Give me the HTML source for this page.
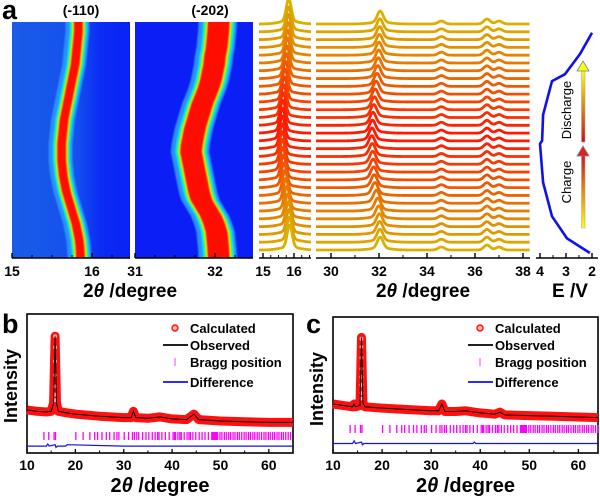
<!DOCTYPE html>
<html><head><meta charset="utf-8"><style>
html,body{margin:0;padding:0;background:#fff;}
svg{display:block;font-family:"Liberation Sans",Arial,sans-serif;font-weight:bold;}
</style></head><body>
<svg id="fig" width="600" height="498" viewBox="0 0 600 498" xmlns="http://www.w3.org/2000/svg">
<defs>
<filter id="blur1" x="-20%" y="-5%" width="140%" height="110%"><feGaussianBlur stdDeviation="0.9"/></filter>
<linearGradient id="hm1bg" x1="0" x2="1" y1="0" y2="0"><stop offset="0" stop-color="#1a5ce8"/><stop offset="0.55" stop-color="#1450ee"/><stop offset="0.75" stop-color="#0a2cf4"/><stop offset="1" stop-color="#0a22f6"/></linearGradient>
<linearGradient id="argCharge" x1="0" x2="0" y1="1" y2="0"><stop offset="0" stop-color="#ffff00"/><stop offset="1" stop-color="#e01010"/></linearGradient>
<linearGradient id="argDis" x1="0" x2="0" y1="1" y2="0"><stop offset="0" stop-color="#d01010"/><stop offset="1" stop-color="#ffff00"/></linearGradient>
</defs>
<text x="2" y="19" font-size="27">a</text>
<text x="81" y="15" font-size="14" text-anchor="middle">(-110)</text>
<text x="210" y="15" font-size="14" text-anchor="middle">(-202)</text>
<text x="2" y="333" font-size="27">b</text>
<text x="306" y="333" font-size="27">c</text>
<g id="layer"></g>
</svg>
<script>
// ---------- data ----------
var peak110 = [15.86,15.85,15.84,15.82,15.80,15.77,15.74,15.71,15.68,15.66,15.64,15.63,15.62,15.62,15.62,15.63,15.64,15.65,15.67,15.69,15.71,15.73,15.75,15.77,15.79,15.80,15.81,15.82,15.83,15.83];
var peak202 = [32.05,32.04,32.03,32.02,31.99,31.95,31.89,31.83,31.80,31.78,31.76,31.74,31.72,31.70,31.71,31.73,31.75,31.78,31.81,31.84,31.88,31.92,31.95,31.97,31.99,32.00,32.02,32.03,32.04,32.05];
var minorPeaks = [34.6,36.5,37.0];
var minorHeights = [3,5,3];
var vFrac = [0,0.064,0.161,0.309,0.479,0.492,0.606,0.754,0.784,0.873,0.966];
var vVolt = [2.08,2.96,3.54,3.88,4.0,3.92,3.88,3.54,3.04,2.46,2.0];
var bTheta = [10,12,14,15,15.5,15.8,16.1,16.5,18,20,25,30,31.5,32,32.5,35,37.5,40,43,44.5,45.5,50,55,60,65];
var bInt =   [31,30,29.5,30,36,84,36,30,29,28,26.5,25.5,25.5,30,25.5,25,26,24.5,24,28,24,23,22.5,22,22];
var bDiffT = [10,14,14.3,14.6,15.8,16,16.3,18,18.3,30,65];
var bDiffI = [5,5,6.5,5,6,4,5,5,6,5,5];
var cTheta = [10,12,14,14.3,14.6,15.5,15.8,16.1,16.5,20,25,30,31.5,32.2,32.8,35,37,40,43,44,45,50,55,60,64];
var cInt =   [36,35,34,36,34,35,85,37,34,33,32,31,31,36,30.5,30.5,31,29.5,28.5,30,28,27.5,27,26.5,26];
var cDiffT = [10,14,14.3,14.6,15.8,16,16.3,38.5,38.8,39.1,44,64];
var cDiffI = [7,7,9,7,8,6,7,7,8,7,7,7];
var calcMarkI_b = [84,76,66,56,48,42,38];
var calcMarkI_c = [84,78,70,62,56,50,44,40];
var bragg = [13.5,14.5,15.6,15.9,20.1,21.6,23.0,24.0,24.6,25.5,26.4,27.1,28.0,28.6,29.0,30.1,31.0,31.8,32.2,32.7,33.1,33.9,34.6,35.2,35.9,36.5,37.0,37.3,37.9,38.6,39.4,40.2,40.5,40.7,41.2,41.6,41.9,42.5,43.1,43.5,43.8,44.3,44.9,45.6,46.2,46.8,47.5,48.2,48.4,48.6,48.8,49.0,49.2,49.4,49.9,50.3,50.8,51.2,51.7,52.1,52.6,53.0,53.5,53.9,54.4,54.9,55.3,55.8,56.2,56.7,57.1,57.6,58.0,58.5,59.0,59.4,59.9,60.3,60.8,61.2,61.7,62.1,62.6,63.0,63.5,64.0,64.5];
var ticks1 = ["15","16"], ticks1v=[15,16];
var ticks2 = ["31","32"], ticks2v=[31,32];
var ticks3 = ["15","16"], ticks3v=[15,16];
var ticks4 = ["30","32","34","36","38"], ticks4v=[30,32,34,36,38];
var ticks5 = ["4","3","2"], ticks5v=[4,3,2];
var ticksB = ["10","20","30","40","50","60"], ticksBv=[10,20,30,40,50,60];

// ---------- helpers ----------
var NS="http://www.w3.org/2000/svg";
var root=document.getElementById('layer');
function mk(tag,attrs,parent){var e=document.createElementNS(NS,tag);for(var k in attrs)e.setAttribute(k,attrs[k]);(parent||root).appendChild(e);return e;}
function lin(d0,d1,r0,r1){return function(v){return r0+(v-d0)/(d1-d0)*(r1-r0);};}
var el;
var N=peak110.length;
var yTop=22,yBot=258;
var scanY=lin(0,N-1,yBot-2,yTop+2);

// ---------- heatmaps ----------
function heatmap(name,x0,x1,d0,peaks,halfW,bgFill,spread){
  var sx=lin(d0,d0+(x1-x0)/80,x0,x1);
  var g=mk('g',{});
  
  
  el=mk('rect',{x:x0,y:yTop,width:x1-x0,height:yBot-yTop,fill:bgFill},g);
  
  
  var cp=mk('clipPath',{id:'clip-'+name},g);
  mk('rect',{x:x0,y:yTop,width:x1-x0,height:yBot-yTop},cp);
  var cg=mk('g',{'clip-path':'url(#clip-'+name+')'},g);
  var layers=[[halfW+spread*4,'#2a90ff'],[halfW+spread*2.6,'#00e8ff'],[halfW+spread*1.6,'#50ff30'],[halfW+spread*0.7,'#ffff00'],[halfW,'#ff1000']];
  layers.forEach(function(L,li){
    var left=[],right=[];
    for(var i=0;i<N;i++){var cx=sx(peaks[i]),y=scanY(i);
      if(i===0)y=yBot+4; if(i===N-1)y=yTop-4;
      left.push((cx-L[0]-(li===0?2:0))+','+y);right.unshift((cx+L[0])+','+y);}
    el=mk('polygon',{points:left.concat(right).join(' '),fill:L[1],filter:'url(#blur1)'},cg);
    
    
  });
  return sx;
}
heatmap('heatmap-110',12,130,15,peak110,4.5,'url(#hm1bg)',1.6);
heatmap('heatmap-202',135,253,31,peak202,11,'#0a1ef5',1.8);

// ---------- axes ----------
function axis(name,x0,x1,sx,vals,labels,minorStep){
  el=mk('line',{x1:x0,x2:x1,y1:258,y2:258,stroke:'#000','stroke-width':1.6});
  
  
  vals.forEach(function(v,i){var x=sx(v);
    el=mk('line',{x1:x,x2:x,y1:258,y2:253,stroke:'#000','stroke-width':1.4});
    
    
    el=mk('text',{x:x,y:276,'font-size':14,'text-anchor':'middle'});
    el.textContent=labels[i];
    
    
  });
  if(minorStep){var a=Math.min(vals[0],vals[vals.length-1]);
    for(var v=a-minorStep*10;v<a+50;v+=minorStep){var x=sx(v);if(x>=x0+1&&x<=x1-1){
      el=mk('line',{x1:x,x2:x,y1:258,y2:255,stroke:'#000','stroke-width':1});
      
      }}}
}
var sx1=lin(15,16,12,92), sx2=lin(31,32,135,215);
var sx3=lin(15,16,263,294), sx4=lin(30,38,331,523), sx5=lin(4,2,540,592);
axis('axis-hm1',12,130,sx1,ticks1v,ticks1,0.25);
axis('axis-hm2',135,253,sx2,ticks2v,ticks2,0.25);
axis('axis-stack1',259,311,sx3,ticks3v,ticks3,0.25);
axis('axis-stack2',316,530,sx4,ticks4v,ticks4,1);
axis('axis-voltage',536,598,sx5,ticks5v,ticks5,0.5);

// ---------- stacked XRD ----------
function traceColor(i){var mid=(N-1)/2;var t=1-Math.abs(i-mid)/mid;
  var r=Math.round(218+(255-218)*t),g=Math.round(176+(20-176)*t);return 'rgb('+r+','+g+',0)';}
var base=lin(0,N-1,250,24);
for(var i=N-1;i>=0;i--){
  var col=traceColor(i),by=base(i);
  var pts=[];
  for(var x=259;x<=311;x+=0.5){var t=(x-263)/31+15;var d=(t-peak110[i])/0.08;pts.push(x+','+(by-22*Math.exp(-d*d/2)-3*Math.exp(-((t-peak110[i])/0.3)*((t-peak110[i])/0.3)/2)).toFixed(2));}
  el=mk('polyline',{points:pts.join(' '),fill:'none',stroke:col,'stroke-width':2.8,'stroke-linejoin':'round'});
  
  
  pts=[];
  for(var x=316;x<=530;x+=0.6){var t=(x-331)/24+30;var d=(t-peak202[i])/0.12;var y=by-11*Math.exp(-d*d/2)-2*Math.exp(-((t-peak202[i])/0.4)*((t-peak202[i])/0.4)/2);
    for(var k=0;k<minorPeaks.length;k++){var dd=(t-minorPeaks[k])/0.13;y-=minorHeights[k]*Math.exp(-dd*dd/2);}
    pts.push(x.toFixed(1)+','+y.toFixed(2));}
  el=mk('polyline',{points:pts.join(' '),fill:'none',stroke:col,'stroke-width':2.8,'stroke-linejoin':'round'});
  
  
}

// ---------- voltage ----------
var vy=lin(0,1,253,25);
var vp=vFrac.map(function(f,i){return sx5(vVolt[i]).toFixed(1)+','+vy(f).toFixed(1);});
el=mk('polyline',{points:vp.join(' '),fill:'none',stroke:'#1010ee','stroke-width':2.6,'stroke-linejoin':'round'});


el=mk('rect',{x:581.5,y:155,width:3.5,height:73,fill:'url(#argCharge)',stroke:'#8aa','stroke-width':0.5});


el=mk('polygon',{points:'577,156 583,146 589,156',fill:'#e82010',stroke:'#6a80b0','stroke-width':0.8});


el=mk('rect',{x:581.5,y:70,width:3.5,height:72,fill:'url(#argDis)',stroke:'#8aa','stroke-width':0.5});


el=mk('polygon',{points:'577,71 583,61 589,71',fill:'#ffff00',stroke:'#6a80b0','stroke-width':0.8});


el=mk('text',{x:0,y:0,'font-size':13,'font-weight':'normal','text-anchor':'middle',transform:'translate(571,182) rotate(-90)'});
el.textContent='Charge';


el=mk('text',{x:0,y:0,'font-size':13,'font-weight':'normal','text-anchor':'middle',transform:'translate(571,110) rotate(-90)'});
el.textContent='Discharge';



function title(name,x,y,size,isTheta){
  el=mk('text',{x:x,y:y,'font-size':size,'text-anchor':'middle'});
  
  
  if(isTheta){el.appendChild(document.createTextNode('2'));var ts=mk('tspan',{'font-style':'italic'},el);ts.textContent='θ';el.appendChild(document.createTextNode(' /degree'));}
  else el.textContent='E /V';
  return el;
}
title('x-axis-title-heatmaps',130,297,19,true);
title('x-axis-title-stack',423,297,19,true);
title('x-axis-title-voltage',570,297,19,false);

// ---------- Rietveld panels ----------
function riet(p,x0,x1,dmax,T,I,DT,DI,marks,braggY,peakT){
  var top=p==='b'?314:317, bot=453;
  var sx=lin(10,dmax,x0,x1), sy=lin(0,100,bot,top);
  el=mk('rect',{x:x0,y:top,width:x1-x0,height:bot-top,fill:'none',stroke:'#000','stroke-width':1.6});
  
  
  var pts=T.map(function(t,i){return sx(t).toFixed(1)+','+sy(I[i]).toFixed(1);}).join(' ');
  el=mk('polyline',{points:pts,fill:'none',stroke:'#ff1010','stroke-width':9,'stroke-linejoin':'round'});
  
  
  marks.forEach(function(m){
    el=mk('circle',{cx:sx(peakT),cy:sy(m),r:2.6,fill:'#ffb0b0',stroke:'#ff1010','stroke-width':1.3});
    
    
  });
  el=mk('polyline',{points:pts,fill:'none',stroke:'#000','stroke-width':1});
  
  
  bragg.forEach(function(b){if(b<=dmax){
    el=mk('line',{x1:sx(b),x2:sx(b),y1:braggY,y2:braggY+8,stroke:'#ff00ff','stroke-width':1.3});
    
    }});
  var dp=DT.map(function(t,i){return sx(t).toFixed(1)+','+sy(DI[i]).toFixed(1);}).join(' ');
  el=mk('polyline',{points:dp,fill:'none',stroke:'#1010ee','stroke-width':1.2});
  
  
  ticksBv.forEach(function(v,i){var x=sx(v);
    el=mk('line',{x1:x,x2:x,y1:bot,y2:bot-4,stroke:'#000','stroke-width':1.3});
    
    
    el=mk('text',{x:x,y:470,'font-size':14,'text-anchor':'middle'});
    el.textContent=ticksB[i];
    
    
  });
  for(var v=15;v<dmax;v+=10){var x=sx(v);
    el=mk('line',{x1:x,x2:x,y1:bot,y2:bot-2.5,stroke:'#000','stroke-width':1});
    
    }
  title('panel-'+p+'-x-axis-title',(x0+x1)/2,492,20,true);
  el=mk('text',{x:0,y:0,'font-size':18,'text-anchor':'middle',transform:'translate('+(x0-10)+','+(top+72)+') rotate(-90)'});
  el.textContent='Intensity';
  
  
  var lx=p==='b'?175:480, ty=p==='b'?190:495;
  var ly=[329,346,363,383];
  el=mk('circle',{cx:lx,cy:ly[0]-1,r:3,fill:'#ffb0b0',stroke:'#ff1010','stroke-width':1.4});
  
  
  el=mk('line',{x1:lx-12,x2:lx+13,y1:ly[1]-1,y2:ly[1]-1,stroke:'#000','stroke-width':1.8});
  
  
  el=mk('line',{x1:lx,x2:lx,y1:ly[2]-5,y2:ly[2]+3,stroke:'#ff40ff','stroke-width':1});
  
  
  el=mk('line',{x1:lx-12,x2:lx+13,y1:ly[3]-1,y2:ly[3]-1,stroke:'#1010ee','stroke-width':1.8});
  
  
  var names=['Calculated','Observed','Bragg position','Difference'];
  names.forEach(function(n,i){
    el=mk('text',{x:ty,y:ly[i]+4,'font-size':13});
    el.textContent=n;
    
    
  });
}
riet('b',27,293,65,bTheta,bInt,bDiffT,bDiffI,calcMarkI_b,432,15.8);
riet('c',333,598,64,cTheta,cInt,cDiffT,cDiffI,calcMarkI_c,425,15.8);
</script>
</body></html>
